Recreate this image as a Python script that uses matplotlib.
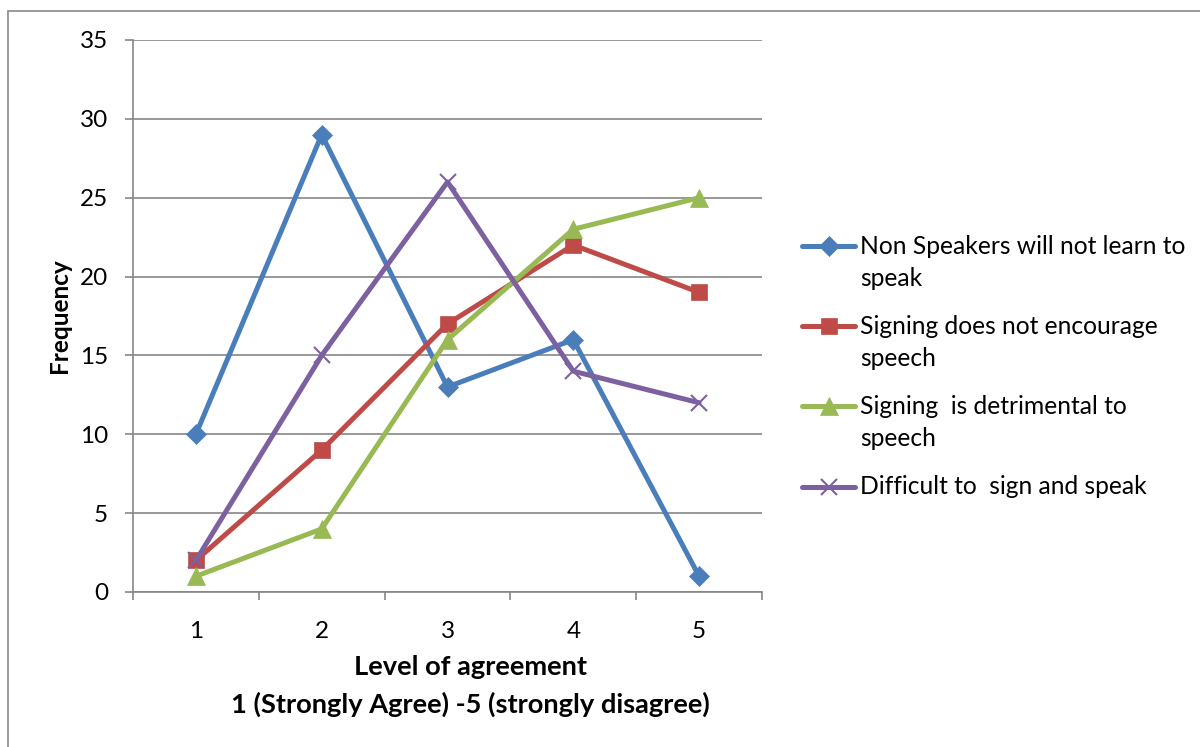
import matplotlib
matplotlib.use("Agg")
import matplotlib.pyplot as plt
from matplotlib.lines import Line2D
from matplotlib.patches import Rectangle

plt.rcParams['font.family'] = ['Lato', 'DejaVu Sans']

# Survey responses: frequency of each level of agreement
levels = [1, 2, 3, 4, 5]
series_names = [
    "Non Speakers will not learn to\nspeak",
    "Signing does not encourage\nspeech",
    "Signing  is detrimental to\nspeech",
    "Difficult to  sign and speak",
]
non_speakers = [10, 29, 13, 16, 1]
not_encourage = [2, 9, 17, 22, 19]
detrimental = [1, 4, 16, 23, 25]
difficult = [2, 15, 26, 14, 12]
y_ticks = [0, 5, 10, 15, 20, 25, 30, 35]

colors = ["#4A7EBB", "#BE4B48", "#98B954", "#7D60A0"]
markers = ["D", "s", "^", "x"]
msizes = [10, 11, 13, 12]
values = [non_speakers, not_encourage, detrimental, difficult]

fig = plt.figure(figsize=(12, 7.47), dpi=100)
fig.patches.append(Rectangle((8 / 1200, -0.1), 1.2, 1 - 11 / 747 + 0.1,
                             transform=fig.transFigure, fill=False,
                             edgecolor="#898989", linewidth=1.2))

ax = fig.add_axes([133 / 1200, 155 / 747, 629 / 1200, 552 / 747])
grid_c = "#868686"

for vals, c, m, ms in zip(values, colors, markers, msizes):
    ax.plot(levels, vals, color=c, linewidth=3.6, marker=m, markersize=ms,
            markerfacecolor=c, markeredgecolor=c,
            markeredgewidth=1.5 if m == "x" else 0.5, solid_capstyle="round",
            solid_joinstyle="round", clip_on=False, zorder=3)

ax.set_xlim(0.5, 5.5)
ax.set_ylim(0, 35)
ax.set_yticks(y_ticks)
ax.set_yticklabels([str(v) for v in y_ticks], fontsize=17.5)
ax.set_xticks(levels)
ax.set_xticklabels([str(v) for v in levels], fontsize=17.5)
ax.tick_params(axis="x", which="major", length=0, pad=21)
ax.set_xticks([0.5 + i for i in range(6)], minor=True)
ax.tick_params(axis="x", which="minor", length=6, width=1.2, color=grid_c)
ax.tick_params(axis="y", length=6, width=1.2, color=grid_c, pad=12)

ax.grid(axis="y", color=grid_c, linewidth=1.2)
ax.set_axisbelow(True)
for s in ["top", "right"]:
    ax.spines[s].set_visible(False)
for s in ["left", "bottom"]:
    ax.spines[s].set_color(grid_c)
    ax.spines[s].set_linewidth(1.2)

ax.set_ylabel("Frequency", fontsize=17.5, fontweight="bold", labelpad=6)
ax.set_xlabel("Level of agreement\n1 (Strongly Agree) -5 (strongly disagree)",
              fontsize=19.6, fontweight="bold", linespacing=1.62)
ax.xaxis.set_label_coords((470 - 133) / 629, -(655 - 592) / 552)
ax.xaxis.label.set_verticalalignment("top")

# Legend drawn with the handle aligned to the first line of each label
legend_y = [246, 326, 406, 487]
for name, c, m, ms, ly in zip(series_names, colors, markers, msizes, legend_y):
    yf = 1 - ly / 747
    fig.add_artist(Line2D([802 / 1200, 855 / 1200], [yf, yf],
                          transform=fig.transFigure, color=c, linewidth=3.6,
                          solid_capstyle="round"))
    fig.add_artist(Line2D([828.5 / 1200], [yf], transform=fig.transFigure,
                          marker=m, markersize=ms, color=c,
                          markerfacecolor=c, markeredgecolor=c,
                          markeredgewidth=1.5 if m == "x" else 0.5))
    for i, line in enumerate(name.split("\n")):
        fig.text(860 / 1200, 1 - (ly + 32 * i) / 747, line, fontsize=17.7,
                 va="center", ha="left", transform=fig.transFigure)

fig.savefig("out.png", dpi=100)
